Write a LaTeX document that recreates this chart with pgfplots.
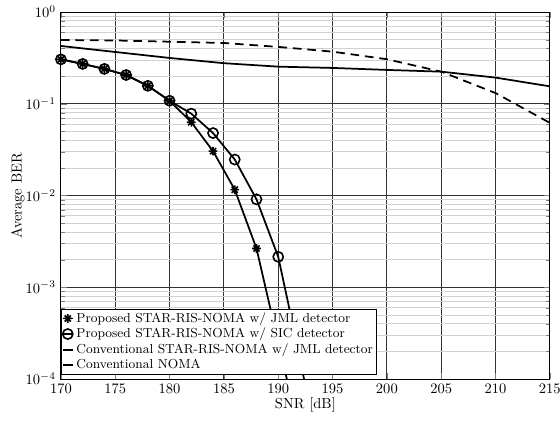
\documentclass[border=0pt]{standalone}
\usepackage{pgfplots}
\pgfplotsset{compat=1.18}
\pgfdeclareplotmark{mstar}{%
  \pgfpathmoveto{\pgfqpoint{-\pgfplotmarksize}{0pt}}\pgfpathlineto{\pgfqpoint{\pgfplotmarksize}{0pt}}%
  \pgfpathmoveto{\pgfqpoint{0pt}{-\pgfplotmarksize}}\pgfpathlineto{\pgfqpoint{0pt}{\pgfplotmarksize}}%
  \pgfpathmoveto{\pgfqpoint{-0.707\pgfplotmarksize}{-0.707\pgfplotmarksize}}\pgfpathlineto{\pgfqpoint{0.707\pgfplotmarksize}{0.707\pgfplotmarksize}}%
  \pgfpathmoveto{\pgfqpoint{-0.707\pgfplotmarksize}{0.707\pgfplotmarksize}}\pgfpathlineto{\pgfqpoint{0.707\pgfplotmarksize}{-0.707\pgfplotmarksize}}%
  \pgfusepathqstroke}
\begin{document}
\begin{tikzpicture}
\begin{axis}[
  width=337pt, height=253pt, scale only axis,
  xmin=170, xmax=215, ymin=1e-4, ymax=1,
  ymode=log,
  xtick={170,175,...,215},
  grid=both,
  major grid style={black!80, line width=0.6pt},
  minor grid style={black!18, line width=0.6pt},
  axis line style={line width=0.6pt},
  tick align=inside,
  xlabel={SNR [dB]}, ylabel={Average BER},
  xlabel style={yshift=4pt},
  ylabel style={at={(axis description cs:-0.088,0.5)}, anchor=center},
  legend style={at={(0,0.012)}, anchor=south west, font=\small,
    inner sep=0.5pt, row sep=-1.5pt, draw=black},
  legend cell align=left,
  legend image code/.code={\draw[mark repeat=2,mark phase=2]
    plot coordinates {(0cm,0cm) (0.12cm,0cm) (0.24cm,0cm)};},
]
\addplot[black, line width=1.2pt, mark=mstar, mark size=3pt, mark options={solid, line width=1.1pt}] coordinates {
  (170,0.305) (172,0.272) (174,0.24) (176,0.206) (178,0.157) (180,0.108)
  (182,0.063) (184,0.0305) (186,0.0116) (188,0.00265) (190,2.5e-4) (192,2.5e-5)
};
\addlegendentry{Proposed STAR-RIS-NOMA w/ JML detector}
\addplot[black, line width=1.2pt, mark=o, mark size=3.5pt, mark options={solid, line width=1.1pt}] coordinates {
  (170,0.305) (172,0.272) (174,0.24) (176,0.206) (178,0.157) (180,0.108)
  (182,0.078) (184,0.048) (186,0.0247) (188,0.0091) (190,0.00215) (192,1.7e-4) (194,1e-5)
};
\addlegendentry{Proposed STAR-RIS-NOMA w/ SIC detector}
\addplot[black, line width=1.2pt] coordinates {
  (170,0.427) (175,0.367) (180,0.316) (185,0.277) (190,0.254) (195,0.246)
  (200,0.234) (205,0.224) (210,0.193) (215,0.155)
};
\addlegendentry{Conventional STAR-RIS-NOMA w/ JML detector}
\addplot[black, line width=1.2pt, dash pattern=on 6pt off 4pt, forget plot] coordinates {
  (170,0.496) (175,0.49) (180,0.475) (185,0.46) (190,0.417) (195,0.37)
  (200,0.306) (205,0.224) (210,0.131) (215,0.062)
};
\addlegendimage{black, line width=1.2pt}
\addlegendentry{Conventional NOMA}
\end{axis}
\pgfresetboundingbox
\path ([shift={(-42pt,-29.6pt)}]current axis.south west) rectangle ([shift={(7pt,8.3pt)}]current axis.north east);
\end{tikzpicture}
\end{document}
